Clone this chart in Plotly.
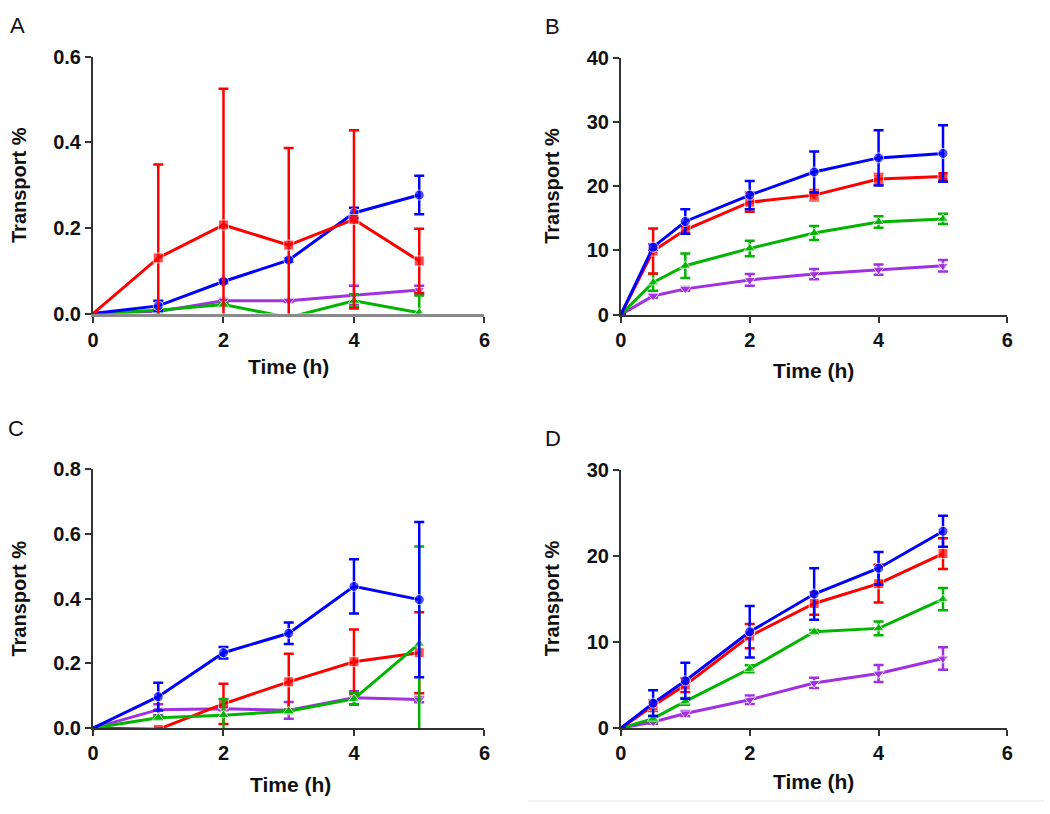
import plotly.graph_objects as go

# ---------------- data ----------------
x_ac = [0, 1, 2, 3, 4, 5]
x_bd = [0, 0.5, 1, 2, 3, 4, 5]

# Panel A
A_blue = [0, 0.018, 0.075, 0.125, 0.235, 0.277]
A_blue_err = [0, 0.012, 0.004, 0.004, 0.012, 0.045]
A_red = [0, 0.13, 0.207, 0.16, 0.22, 0.123]
A_red_err = [0, 0.218, 0.318, 0.227, 0.208, 0.075]
A_green = [0, 0.008, 0.021, -0.009, 0.03, 0.002]
A_green_err = [0, 0.003, 0.003, 0, 0.015, 0.04]
A_purple = [0, 0.005, 0.03, 0.03, 0.043, 0.055]
A_purple_err = [0, 0.002, 0.004, 0.003, 0.022, 0.01]

# Panel B
B_blue = [0, 10.5, 14.5, 18.6, 22.2, 24.4, 25.1]
B_blue_err = [0, 0.4, 1.9, 2.2, 3.2, 4.3, 4.4]
B_red = [0, 9.9, 13.2, 17.5, 18.6, 21.1, 21.5]
B_red_err = [0, 3.5, 0.6, 1.5, 0.8, 0.8, 0.5]
B_green = [0, 5.0, 7.6, 10.3, 12.7, 14.4, 14.9]
B_green_err = [0, 1.3, 1.9, 1.2, 1.1, 0.9, 0.8]
B_purple = [0, 2.9, 4.0, 5.4, 6.3, 7.0, 7.6]
B_purple_err = [0, 0.3, 0.3, 0.9, 0.8, 0.8, 0.9]

# Panel C
C_blue = [0, 0.097, 0.233, 0.293, 0.438, 0.397]
C_blue_err = [0, 0.043, 0.018, 0.033, 0.084, 0.24]
C_red = [0, -0.004, 0.075, 0.143, 0.205, 0.233]
C_red_err = [0, 0.002, 0.062, 0.087, 0.1, 0.125]
C_green = [0, 0.032, 0.04, 0.052, 0.09, 0.261]
C_green_err = [0, 0.005, 0.05, 0.005, 0.018, 0.3]
C_purple = [0, 0.057, 0.06, 0.055, 0.094, 0.088]
C_purple_err = [0, 0.017, 0.005, 0.026, 0.02, 0.008]

# Panel D
D_blue = [0, 2.9, 5.5, 11.2, 15.6, 18.6, 22.9]
D_blue_err = [0, 1.5, 2.1, 3.0, 3.0, 1.9, 1.8]
D_red = [0, 2.6, 5.0, 10.7, 14.5, 16.8, 20.3]
D_red_err = [0, 0.6, 0.8, 1.4, 1.3, 2.2, 1.8]
D_green = [0, 1.1, 3.1, 6.9, 11.2, 11.6, 15.0]
D_green_err = [0, 0.3, 0.4, 0.4, 0.2, 0.8, 1.3]
D_purple = [0, 0.7, 1.7, 3.3, 5.25, 6.35, 8.1]
D_purple_err = [0, 0.2, 0.3, 0.5, 0.6, 1.0, 1.3]

x_ticks = [0, 2, 4, 6]
A_yticks = [0, 0.2, 0.4, 0.6]
A_yticktext = ["0.0", "0.2", "0.4", "0.6"]
B_yticks = [0, 10, 20, 30, 40]
C_yticks = [0, 0.2, 0.4, 0.6, 0.8]
C_yticktext = ["0.0", "0.2", "0.4", "0.6", "0.8"]
D_yticks = [0, 10, 20, 30]

panel_letters = ["A", "B", "C", "D"]
x_title = "Time (h)"
y_title = "Transport %"

# ---------------- styles ----------------
BLUE = "#0000FF"
RED = "#FF0000"
GREEN = "#00B400"
PURPLE = "#A030E0"

W, H = 1050, 814

def px_x(p):
    return p / W

def px_y(p):
    return 1 - p / H

def bold(lst):
    return ["<b>%s</b>" % s for s in lst]

fig = go.Figure()

def add_series(xs, ys, errs, color, symbol, xa, ya):
    sizes = [0] + [10] * (len(xs) - 1)
    fig.add_trace(go.Scatter(
        x=xs, y=ys, mode="lines+markers",
        line=dict(color=color, width=3),
        marker=dict(color=color, symbol=symbol, size=sizes),
        error_y=dict(type="data", array=errs, visible=True,
                     color=color, thickness=2.5, width=5),
        xaxis=xa, yaxis=ya, showlegend=False, cliponaxis=True,
    ))

panels = [
    ("x", "y", x_ac, [(A_purple, A_purple_err, PURPLE, "triangle-down"),
                      (A_green, A_green_err, GREEN, "triangle-up"),
                      (A_blue, A_blue_err, BLUE, "circle"),
                      (A_red, A_red_err, RED, "square")]),
    ("x2", "y2", x_bd, [(B_purple, B_purple_err, PURPLE, "triangle-down"),
                        (B_green, B_green_err, GREEN, "triangle-up"),
                        (B_red, B_red_err, RED, "square"),
                        (B_blue, B_blue_err, BLUE, "circle")]),
    ("x3", "y3", x_ac, [(C_purple, C_purple_err, PURPLE, "triangle-down"),
                        (C_red, C_red_err, RED, "square"),
                        (C_green, C_green_err, GREEN, "triangle-up"),
                        (C_blue, C_blue_err, BLUE, "circle")]),
    ("x4", "y4", x_bd, [(D_purple, D_purple_err, PURPLE, "triangle-down"),
                        (D_green, D_green_err, GREEN, "triangle-up"),
                        (D_red, D_red_err, RED, "square"),
                        (D_blue, D_blue_err, BLUE, "circle")]),
]

for xa, ya, xs, series in panels:
    for ys, es, c, sym in series:
        add_series(xs, ys, es, c, sym, xa, ya)

FONT = "Liberation Sans, Arial, sans-serif"
tickfont = dict(family=FONT, size=20, color="#111111")

def xaxis(domain, anchor, linecolor="#333333", linewidth=2):
    return dict(domain=domain, anchor=anchor, range=[0, 6],
                tickvals=x_ticks, ticktext=bold([str(t) for t in x_ticks]),
                showgrid=False, zeroline=False, showline=True,
                linecolor=linecolor, linewidth=linewidth,
                ticks="outside", ticklen=6, tickwidth=2, tickcolor="#333333",
                tickfont=tickfont, fixedrange=True)

def yaxis(domain, anchor, rng, tv, tt):
    return dict(domain=domain, anchor=anchor, range=rng,
                tickvals=tv, ticktext=bold(tt),
                showgrid=False, zeroline=False, showline=True,
                linecolor="#333333", linewidth=2,
                ticks="outside", ticklen=6, tickwidth=2, tickcolor="#333333",
                tickfont=tickfont, fixedrange=True)

xdomL = [px_x(88), px_x(484)]
xdomR = [px_x(622), px_x(1013)]
ydomT_A = [px_y(311), px_y(47)]
ydomT_B = [px_y(312), px_y(48)]
ydomB_C = [px_y(737), px_y(471)]
ydomB_D = [px_y(737), px_y(472)]

annotations = []
for letter, (xp, yp) in zip(panel_letters, [(12, 15), (553, 16), (10, 429), (553, 439)]):
    annotations.append(dict(text=letter, x=px_x(xp), y=px_y(yp), xref="paper", yref="paper",
                            showarrow=False, xanchor="center", yanchor="middle",
                            font=dict(family=FONT, size=22, color="#111111")))

for xc, yc in [(286, 365), (817, 369), (288, 795), (817, 792)]:
    annotations.append(dict(text="<b>%s</b>" % x_title, x=px_x(xc), y=px_y(yc),
                            xref="paper", yref="paper", showarrow=False,
                            xanchor="center", yanchor="middle",
                            font=dict(family=FONT, size=21, color="#111111")))

for xc, yc in [(13, 179), (552, 180), (13, 604), (552, 604)]:
    annotations.append(dict(text="<b>%s</b>" % y_title, x=px_x(xc), y=px_y(yc),
                            xref="paper", yref="paper", showarrow=False, textangle=-90,
                            xanchor="center", yanchor="middle",
                            font=dict(family=FONT, size=20, color="#111111")))

fig.update_layout(
    width=W, height=H, margin=dict(l=0, r=0, t=0, b=0),
    paper_bgcolor="white", plot_bgcolor="white",
    xaxis=xaxis(xdomL, "y", linecolor="#8a8a8a", linewidth=3),
    yaxis=yaxis(ydomT_A, "x", [0, 0.6], A_yticks, A_yticktext),
    xaxis2=xaxis(xdomR, "y2"),
    yaxis2=yaxis(ydomT_B, "x2", [0, 40], B_yticks, [str(t) for t in B_yticks]),
    xaxis3=xaxis(xdomL, "y3"),
    yaxis3=yaxis(ydomB_C, "x3", [0, 0.8], C_yticks, C_yticktext),
    xaxis4=xaxis(xdomR, "y4"),
    yaxis4=yaxis(ydomB_D, "x4", [0, 30], D_yticks, [str(t) for t in D_yticks]),
    annotations=annotations,
    shapes=[dict(type="line", xref="paper", yref="paper",
                 x0=px_x(528), x1=1, y0=px_y(812), y1=px_y(812),
                 line=dict(color="#e6e6e6", width=1))],
)

fig.write_html("out.html", config={"displayModeBar": False},
               post_script="document.body.style.margin='0';document.body.style.overflow='hidden';")
